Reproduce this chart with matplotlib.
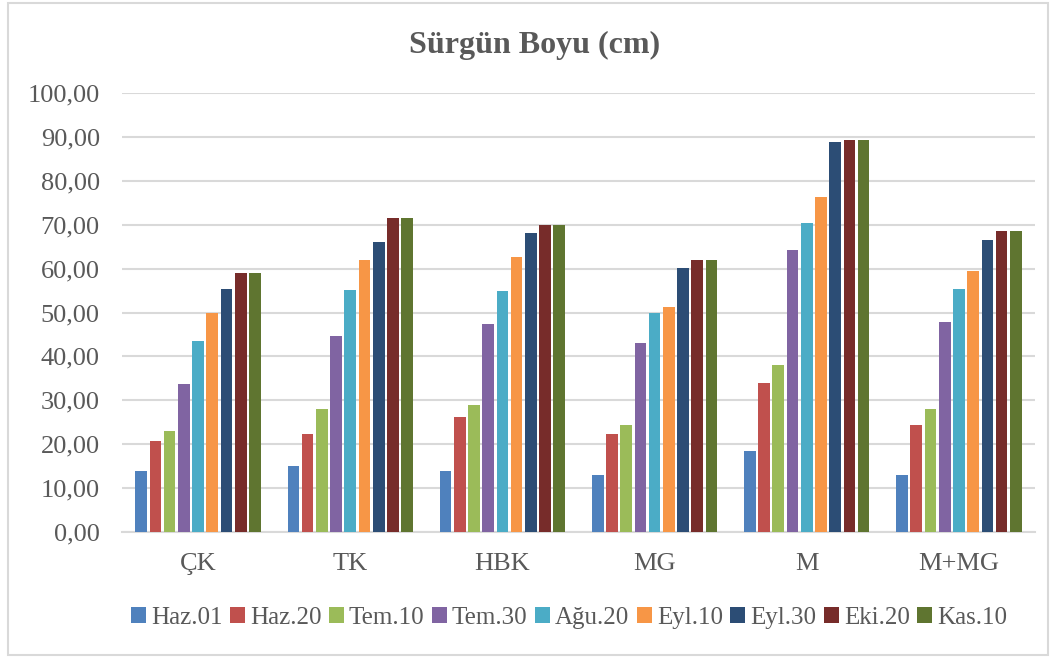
import numpy as np
import matplotlib
matplotlib.use('Agg')
import matplotlib.pyplot as plt
from matplotlib.patches import Rectangle
from matplotlib.ticker import FuncFormatter

plt.rcParams['font.family'] = ['Liberation Serif', 'DejaVu Serif']

# Categories (treatments) and sampling dates
categories = ['ÇK', 'TK', 'HBK', 'MG', 'M', 'M+MG']
dates = ['Haz.01', 'Haz.20', 'Tem.10', 'Tem.30', 'Ağu.20',
         'Eyl.10', 'Eyl.30', 'Eki.20', 'Kas.10']

# Shoot length (cm) per date, one value per category
haz01 = [14.0, 15.0, 14.0, 12.9, 18.4, 12.9]
haz20 = [20.7, 22.4, 26.2, 22.3, 34.0, 24.3]
tem10 = [23.0, 28.1, 29.0, 24.3, 38.1, 28.0]
tem30 = [33.6, 44.6, 47.3, 43.1, 64.2, 47.8]
agu20 = [43.5, 55.1, 54.8, 49.9, 70.5, 55.4]
eyl10 = [50.0, 62.0, 62.6, 51.3, 76.4, 59.5]
eyl30 = [55.4, 66.0, 68.0, 60.2, 88.8, 66.6]
eki20 = [58.9, 71.5, 70.0, 61.9, 89.4, 68.5]
kas10 = [58.9, 71.5, 70.0, 61.9, 89.4, 68.5]
series = [haz01, haz20, tem10, tem30, agu20, eyl10, eyl30, eki20, kas10]

colors = ['#4F81BD', '#C0504D', '#9BBB59', '#8064A2', '#4BACC6',
          '#F79646', '#2C4D75', '#772C2A', '#5F7530']

text_color = '#595959'

fig = plt.figure(figsize=(10.59, 6.57), dpi=100)
ax = fig.add_axes([122/1059, 1 - 532/657, (1035-122)/1059, (532-93)/657])

x = np.arange(len(categories))
step = 0.0935
for i, (vals, c) in enumerate(zip(series, colors)):
    ax.bar(x + (i - 4) * step, vals, width=step * 0.82, color=c,
           label=dates[i], zorder=3)

ax.set_xlim(-0.5, len(categories) - 0.5)
ax.set_ylim(0, 100)
ax.set_yticks(np.arange(0, 101, 10))
ax.yaxis.set_major_formatter(FuncFormatter(lambda v, p: f'{v:.2f}'.replace('.', ',')))
ax.set_xticks(x)
ax.set_xticklabels(categories)

ax.grid(axis='y', color='#D9D9D9', linewidth=1.5, zorder=0)
for s in ['top', 'right', 'left']:
    ax.spines[s].set_visible(False)
ax.spines['bottom'].set_color('#D9D9D9')
ax.spines['bottom'].set_linewidth(1.5)
ax.tick_params(axis='both', length=0, labelsize=19, colors=text_color)
ax.tick_params(axis='y', pad=16)
ax.tick_params(axis='x', pad=15)

fig.text(535/1059, 1 - 45/657, 'Sürgün Boyu (cm)', ha='center', va='center',
         fontsize=23, fontweight='bold', color=text_color)

leg = fig.legend(loc='center', bbox_to_anchor=(569/1059, 1 - 618/657), ncol=9,
                 frameon=False, fontsize=18, handlelength=0.6, handleheight=0.6,
                 handletextpad=0.2, columnspacing=0.3, borderaxespad=0)
for t in leg.get_texts():
    t.set_color(text_color)

# outer chart border
fig.patches.append(Rectangle((8/1059, 1 - 655/657), (1048-8)/1059, (655-3)/657,
                             transform=fig.transFigure, fill=False,
                             edgecolor='#D9D9D9', linewidth=1.5))

fig.savefig('out.png', dpi=100)
